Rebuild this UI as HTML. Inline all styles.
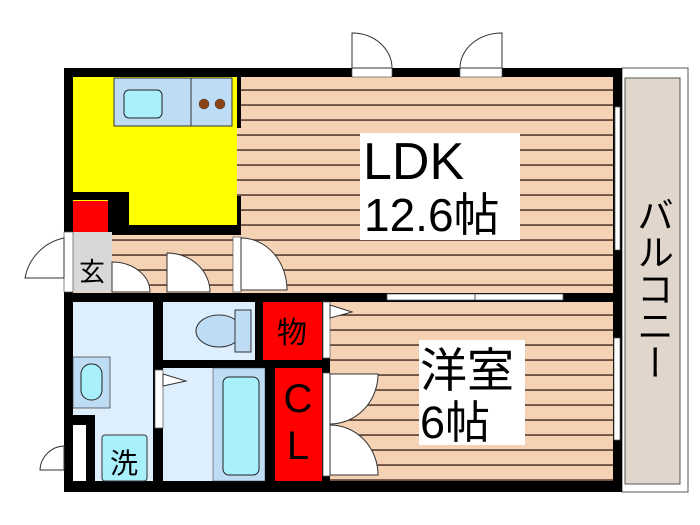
<!DOCTYPE html>
<html><head><meta charset="utf-8"><style>html,body{margin:0;padding:0;background:#fff}svg{display:block}</style></head>
<body>
<svg width="700" height="525" viewBox="0 0 700 525" xmlns="http://www.w3.org/2000/svg" font-family="Liberation Sans, Noto Sans CJK JP, sans-serif">
<defs>
<pattern id="wood" x="0" y="1" width="10" height="15" patternUnits="userSpaceOnUse">
<rect width="10" height="15" fill="#f6d2b4"/><rect y="13.3" width="10" height="1.5" fill="#4a3328"/>
</pattern>
</defs>
<rect width="700" height="525" fill="#fff"/>
<!-- balcony -->
<rect x="622" y="68" width="66" height="424" fill="#fff" stroke="#555" stroke-width="1"/>
<rect x="625" y="78" width="55" height="406" fill="#e0d6cc" stroke="#555" stroke-width="1"/>
<text x="652" y="196" font-size="37" fill="#000" style="writing-mode:vertical-rl">バルコニー</text>
<!-- outer black -->
<rect x="64" y="68" width="558" height="424" fill="#000"/>
<!-- LDK wood -->
<rect x="73" y="77" width="540" height="216" fill="url(#wood)"/>
<!-- 洋室 wood -->
<rect x="330" y="302" width="283" height="179" fill="url(#wood)"/>
<!-- kitchen -->
<rect x="73" y="77" width="164" height="148" fill="#ffff00"/>
<rect x="237" y="77" width="4" height="51" fill="#000"/>
<rect x="237" y="196" width="4" height="39" fill="#000"/>
<rect x="73" y="225" width="168" height="10" fill="#000"/>
<rect x="73" y="192" width="56" height="8" fill="#000"/>
<rect x="108" y="192" width="21" height="43" fill="#000"/>
<rect x="73" y="201" width="35" height="31" fill="#ff0000"/>
<rect x="114" y="78" width="118" height="48" fill="#bfdcf5" stroke="#333" stroke-width="1"/>
<line x1="191" y1="78" x2="191" y2="126" stroke="#333"/>
<rect x="124" y="90" width="38" height="28" rx="5" fill="#a8f0fc" stroke="#222" stroke-width="1"/>
<circle cx="204" cy="104" r="5" fill="#8b4513" stroke="#333" stroke-width=".5"/>
<circle cx="220" cy="104" r="5" fill="#8b4513" stroke="#333" stroke-width=".5"/>
<!-- hallway -->
<rect x="112" y="235" width="125" height="57" fill="url(#wood)"/>
<rect x="73" y="232" width="39" height="60" fill="#d8d8d8"/>
<text x="92" y="281" font-size="26" text-anchor="middle">玄</text>
<rect x="64" y="232" width="9" height="60" fill="#fff" stroke="#555" stroke-width=".7"/>
<path d="M64 238 A50 50 0 0 0 25 278 L64 278 Z" fill="#fff" stroke="#333"/>
<path d="M112 262 A38 30 0 0 1 150 292 L112 292 Z" fill="#fff" stroke="#333"/>
<path d="M167 253 A43 39 0 0 1 210 292 L167 292 Z" fill="#fff" stroke="#333"/>
<rect x="233" y="237" width="8" height="55" fill="#fff" stroke="#555" stroke-width=".7"/>
<path d="M241 238 A46 52 0 0 1 287 290 L241 290 Z" fill="#fff" stroke="#333"/>
<!-- top doors -->
<rect x="352" y="68" width="40" height="9" fill="#fff" stroke="#555" stroke-width=".7"/>
<path d="M352 68 L352 33 A40 35 0 0 1 392 68 Z" fill="#fff" stroke="#333"/>
<rect x="460" y="68" width="42" height="9" fill="#fff" stroke="#555" stroke-width=".7"/>
<path d="M502 68 L502 33 A42 35 0 0 0 460 68 Z" fill="#fff" stroke="#333"/>
<!-- windows -->
<rect x="615" y="107" width="5" height="143" fill="#fff" stroke="#555" stroke-width=".7"/>
<rect x="614" y="338" width="6" height="102" fill="#fff" stroke="#555" stroke-width=".7"/>
<rect x="387" y="294" width="176" height="6" fill="#fff" stroke="#555" stroke-width=".7"/>
<line x1="475" y1="294" x2="475" y2="300" stroke="#555"/>
<!-- LDK label -->
<rect x="360" y="133" width="160" height="107" fill="#fff"/>
<text x="363" y="179" font-size="52">LDK</text>
<text x="364" y="231" font-size="46">12.6帖</text>
<!-- 洋室 label -->
<rect x="419" y="340" width="106" height="105" fill="#fff"/>
<text x="420" y="387" font-size="47">洋室</text>
<text x="420" y="438" font-size="45">6帖</text>
<!-- wet areas -->
<rect x="73" y="302" width="80" height="179" fill="#ddeefc"/>
<rect x="73" y="357" width="37" height="51" fill="#bfdcf5" stroke="#333" stroke-width=".7"/>
<rect x="81" y="364" width="21" height="36" rx="10" fill="#a8f0fc" stroke="#222"/>
<rect x="73" y="415" width="22" height="66" fill="#000"/>
<rect x="73" y="425" width="13" height="56" fill="#fff"/>
<path d="M64 446 A25 25 0 0 0 40 470 L64 470 Z" fill="#fff" stroke="#333"/>
<rect x="102" y="435" width="45" height="46" rx="3" fill="#a8f0fc" stroke="#333"/>
<text x="124" y="473" font-size="28" text-anchor="middle">洗</text>
<rect x="163" y="302" width="92" height="58" fill="#ddeefc"/>
<ellipse cx="219" cy="331" rx="23" ry="16" fill="#bfdcf5" stroke="#333"/>
<rect x="235" y="310" width="16" height="42" fill="#bfdcf5" stroke="#333"/>
<rect x="263" y="302" width="59" height="58" fill="#ff0000"/>
<text x="292" y="343" font-size="30" text-anchor="middle">物</text>
<rect x="163" y="368" width="50" height="113" fill="#ddeefc"/>
<rect x="213" y="368" width="52" height="113" fill="#bfdcf5" stroke="#333" stroke-width=".5"/>
<rect x="223" y="377" width="36" height="98" rx="6" fill="#a8f0fc" stroke="#222"/>
<rect x="275" y="368" width="47" height="113" fill="#ff0000"/>
<text x="298" y="412" font-size="40" text-anchor="middle">C</text>
<text x="298" y="459" font-size="40" text-anchor="middle">L</text>
<rect x="155" y="370" width="8" height="58" fill="#fff" stroke="#555" stroke-width=".7"/>
<path d="M163 374 L186 381 L163 386 Z" fill="#fff" stroke="#333"/>
<rect x="323" y="302" width="7" height="56" fill="#fff" stroke="#555" stroke-width=".7"/>
<path d="M330 305 L352 312 L330 318 Z" fill="#fff" stroke="#333"/>
<rect x="323" y="373" width="7" height="103" fill="#fff" stroke="#555" stroke-width=".7"/>
<path d="M330 374 L378 374 A48 50 0 0 1 330 424 Z" fill="#fff" stroke="#333"/>
<path d="M330 475 L378 475 A48 50 0 0 0 330 425 Z" fill="#fff" stroke="#333"/>
</svg>
</body></html>
